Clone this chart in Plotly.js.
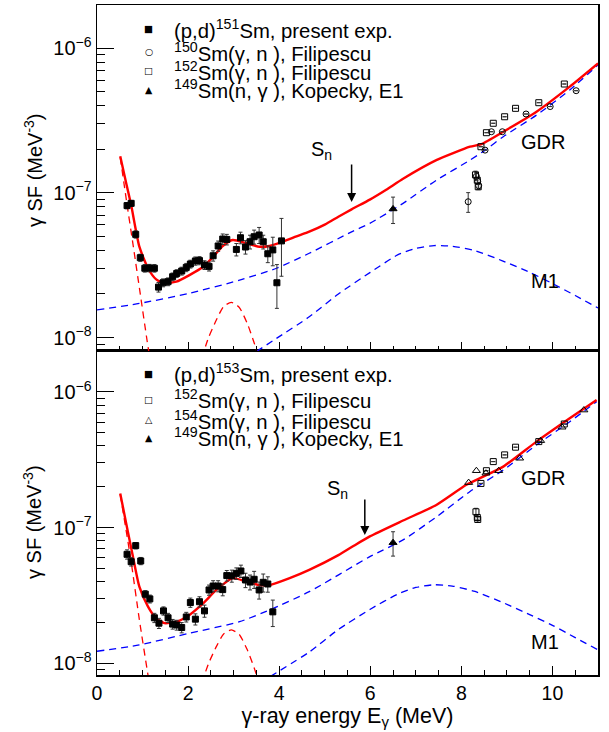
<!DOCTYPE html>
<html><head><meta charset="utf-8">
<script src="https://cdn.plot.ly/plotly-3.0.1.min.js"></script>
<style>html,body{margin:0;padding:0;background:#fff}#chart{width:609px;height:732px}</style>
</head><body><div id="chart"></div>
<script>
// ---------- TOP PANEL (151Sm) ----------
var topExpE   = [0.66,0.75,0.85,0.95,1.05,1.15,1.26,1.35,1.45,1.56,1.66,1.75,1.86,1.96,2.05,2.16,2.25,2.36,2.46,2.55,2.66,2.76,2.85,3.06,3.15,3.26,3.36,3.45,3.56,3.65,3.75,3.86,3.95,4.05];
var topExpSF  = [8.15e-8,8.45e-8,5.16e-8,3.56e-8,3.01e-8,3.02e-8,3.01e-8,2.23e-8,2.39e-8,2.43e-8,2.63e-8,2.77e-8,2.88e-8,3.05e-8,3.22e-8,3.38e-8,3.40e-8,3.17e-8,3.10e-8,3.67e-8,4.29e-8,4.79e-8,4.76e-8,4.06e-8,4.89e-8,4.22e-8,4.59e-8,4.97e-8,5.11e-8,4.59e-8,3.79e-8,4.03e-8,2.39e-8,4.65e-8];
var topExpErr = [0.4e-8,0.4e-8,0.3e-8,0.2e-8,0.18e-8,0.18e-8,0.18e-8,0.17e-8,0.15e-8,0.15e-8,0.16e-8,0.17e-8,0.18e-8,0.2e-8,0.2e-8,0.22e-8,0.22e-8,0.22e-8,0.22e-8,0.3e-8,0.35e-8,0.4e-8,0.4e-8,0.4e-8,0.45e-8,0.45e-8,0.5e-8,0.55e-8,0.65e-8,0.5e-8,0.5e-8,0.9e-8,0.8e-8,2.0e-8];

var topKopE = [6.50], topKopSF = [7.73e-8], topKopErr = [1.6e-8];

var sm150E   = [8.15,8.33,8.36,8.38,8.52,8.66,8.90,9.42,9.95,10.52];
var sm150SF  = [8.67e-8,1.30e-7,1.20e-7,1.12e-7,1.97e-7,2.64e-7,2.64e-7,3.50e-7,3.94e-7,5.07e-7];
var sm150Err = [1.35e-8,0.08e-7,0.06e-7,0.05e-7,0,0,0,0,0,0];

var topSm152E   = [8.31,8.35,8.37,8.43,8.55,8.70,8.95,9.19,9.70,10.26];
var topSm152SF  = [1.33e-7,1.22e-7,1.10e-7,2.08e-7,2.60e-7,3.02e-7,3.35e-7,3.83e-7,4.19e-7,5.64e-7];
var topSm152Err = [0.08e-7,0.06e-7,0.05e-7,0,0,0,0,0,0,0];

var topTotE  = [0.51,0.64,0.75,0.93,1.12,1.30,1.48,1.74,2.03,2.33,2.55,2.76,2.98,3.28,3.57,3.79,4.08,4.38,4.66,5.0,5.3,5.59,5.99,6.35,6.72,7.45,8.19,8.44,8.92,9.65,10.38,11.0];
var topTotSF = [1.79e-7,1.17e-7,8.22e-8,4.24e-8,3.01e-8,2.52e-8,2.37e-8,2.43e-8,2.70e-8,3.08e-8,3.61e-8,4.29e-8,4.72e-8,4.48e-8,4.24e-8,4.29e-8,4.59e-8,4.99e-8,5.38e-8,6.02e-8,6.83e-8,7.68e-8,8.97e-8,1.05e-7,1.25e-7,1.68e-7,2.08e-7,2.17e-7,2.64e-7,3.63e-7,5.41e-7,7.83e-7];

var topUpE  = [0.51,0.65,0.80,0.95,1.10,1.16];
var topUpSF = [1.76e-7,8.7e-8,4.2e-8,2.0e-8,9.5e-9,7.2e-9];

var topScE  = [2.30,2.45,2.62,2.78,2.95,3.12,3.30,3.45,3.57];
var topScSF = [7.2e-9,1.0e-8,1.32e-8,1.64e-8,1.75e-8,1.62e-8,1.25e-8,9.2e-9,7.0e-9];

var topGdrE  = [0.0,0.93,2.03,3.13,3.94,4.66,5.59,5.99,6.72,7.45,8.19,8.52,8.92,9.65,10.38,11.0];
var topGdrSF = [1.55e-8,1.72e-8,2.02e-8,2.49e-8,3.01e-8,3.82e-8,5.37e-8,6.15e-8,8.45e-8,1.22e-7,1.68e-7,1.97e-7,2.44e-7,3.44e-7,5.13e-7,7.64e-7];

var topM1E  = [3.50,3.94,4.66,5.3,6.0,6.6,7.0,7.4,7.8,8.3,8.9,9.5,10.0,10.5,11.0];
var topM1SF = [8.0e-9,9.86e-9,1.39e-8,2.0e-8,2.82e-8,3.72e-8,4.12e-8,4.32e-8,4.27e-8,3.98e-8,3.39e-8,2.82e-8,2.36e-8,1.95e-8,1.60e-8];

// ---------- BOTTOM PANEL (153Sm) ----------
var botExpE   = [0.66,0.75,0.85,0.96,1.06,1.16,1.26,1.36,1.46,1.56,1.66,1.75,1.86,1.96,2.05,2.16,2.25,2.36,2.46,2.55,2.66,2.76,2.85,2.96,3.06,3.16,3.26,3.36,3.45,3.56,3.65,3.75,3.86];
var botExpSF  = [6.37e-8,5.62e-8,7.38e-8,5.69e-8,3.24e-8,2.99e-8,2.17e-8,1.98e-8,2.44e-8,2.17e-8,1.95e-8,1.92e-8,1.84e-8,2.20e-8,2.81e-8,2.12e-8,2.85e-8,2.44e-8,3.48e-8,3.72e-8,3.72e-8,3.50e-8,4.44e-8,4.42e-8,4.61e-8,4.80e-8,4.12e-8,3.98e-8,4.17e-8,3.48e-8,3.96e-8,3.85e-8,2.40e-8];
var botExpErr = [0.5e-8,0.4e-8,0.4e-8,0.35e-8,0.2e-8,0.2e-8,0.17e-8,0.17e-8,0.17e-8,0.17e-8,0.16e-8,0.16e-8,0.16e-8,0.18e-8,0.22e-8,0.2e-8,0.25e-8,0.25e-8,0.3e-8,0.35e-8,0.35e-8,0.35e-8,0.4e-8,0.45e-8,0.45e-8,0.5e-8,0.5e-8,0.5e-8,0.6e-8,0.5e-8,0.6e-8,0.5e-8,0.53e-8];

var botKopE = [6.50], botKopSF = [7.76e-8], botKopErr = [1.58e-8];

var botSm152E   = [8.32,8.35,8.36,8.43,8.55,8.70,8.95,9.19,9.70,10.26];
var botSm152SF  = [1.31e-7,1.19e-7,1.15e-7,2.12e-7,2.63e-7,3.07e-7,3.44e-7,3.92e-7,4.31e-7,5.81e-7];
var botSm152Err = [0.08e-7,0.05e-7,0.05e-7,0,0,0,0,0,0,0];

var sm154E  = [8.16,8.33,8.54,8.82,9.28,9.74,10.21,10.69];
var sm154SF = [2.15e-7,2.63e-7,2.52e-7,2.63e-7,3.25e-7,4.38e-7,5.50e-7,7.36e-7];

var botTotE  = [0.51,0.64,0.79,0.93,1.12,1.30,1.48,1.74,2.03,2.33,2.62,2.98,3.28,3.57,3.79,4.23,4.66,5.3,5.65,5.99,6.72,7.45,8.11,8.48,8.92,9.65,10.38,10.97];
var botTotSF = [1.79e-7,1.08e-7,6.12e-8,3.68e-8,2.62e-8,2.15e-8,1.98e-8,2.03e-8,2.28e-8,2.77e-8,3.48e-8,4.25e-8,4.01e-8,3.78e-8,3.78e-8,4.25e-8,4.89e-8,6.28e-8,7.40e-8,8.63e-8,1.13e-7,1.47e-7,2.07e-7,2.38e-7,2.82e-7,4.31e-7,6.40e-7,8.73e-7];

var botUpE  = [0.51,0.75,0.93,1.12,1.16];
var botUpSF = [1.76e-7,5.6e-8,2.1e-8,8.2e-9,6.8e-9];

var botScE  = [2.30,2.45,2.62,2.78,2.95,3.12,3.30,3.45,3.57];
var botScSF = [7.2e-9,1.0e-8,1.33e-8,1.65e-8,1.77e-8,1.64e-8,1.26e-8,9.3e-9,7.0e-9];

var botGdrE  = [0.0,0.93,2.03,3.13,3.79,4.66,5.99,6.72,7.45,8.19,8.92,9.65,10.38,10.97];
var botGdrSF = [1.23e-8,1.37e-8,1.67e-8,2.03e-8,2.48e-8,3.38e-8,6.12e-8,8.13e-8,1.20e-7,1.85e-7,2.66e-7,4.07e-7,6.04e-7,8.49e-7];

var botM1E  = [3.80,4.67,5.3,6.0,6.6,7.0,7.4,7.8,8.3,8.9,9.5,10.0,10.5,11.0];
var botM1SF = [8.0e-9,1.22e-8,1.78e-8,2.51e-8,3.24e-8,3.63e-8,3.80e-8,3.72e-8,3.39e-8,2.82e-8,2.29e-8,1.91e-8,1.55e-8,1.26e-8];

// ---------- axis tick labels ----------
var yTickVals = [1e-8,1e-7,1e-6];
var yTickText = ['10<sup>\u22128</sup>','10<sup>\u22127</sup>','10<sup>\u22126</sup>'];
var yMinorVals = [];
[1e-9,1e-8,1e-7,1e-6].forEach(function(d){for(var k=2;k<10;k++){yMinorVals.push(k*d);}});

var FONT = 'Liberation Sans, Arial, Helvetica, sans-serif';
var RED = '#ff0000', BLUE = '#0000ff';

function pts(xa, ya, x, y, err, sym, size, lw){
  var t = {x:x, y:y, xaxis:xa, yaxis:ya, type:'scatter', mode:'markers', showlegend:false,
    marker:{symbol:sym, size:size, color:'#000', line:{color:'#000', width:lw||1}}};
  if (err) t.error_y = {type:'data', array:err, visible:true, color:'#333', thickness:1, width:2};
  return t;
}
function line(xa, ya, x, y, col, w, dash){
  return {x:x, y:y, xaxis:xa, yaxis:ya, type:'scatter', mode:'lines', showlegend:false, hoverinfo:'skip',
    line:{color:col, width:w, dash:dash||'solid', shape:'spline', smoothing:0.6}};
}
var DASH = '7px,5px';

var traces = [
  // top panel
  line('x2','y2', topGdrE, topGdrSF, BLUE, 1.3, DASH),
  line('x2','y2', topM1E, topM1SF, BLUE, 1.3, DASH),
  line('x2','y2', topUpE, topUpSF, RED, 1.3, DASH),
  line('x2','y2', topScE, topScSF, RED, 1.3, DASH),
  line('x2','y2', topTotE, topTotSF, RED, 2.4),
  pts('x2','y2', topExpE, topExpSF, topExpErr, 'square', 6),
  pts('x2','y2', topKopE, topKopSF, topKopErr, 'triangle-up', 7),
  pts('x2','y2', sm150E, sm150SF, sm150Err, 'circle-open', 6),
  pts('x2','y2', topSm152E, topSm152SF, topSm152Err, 'square-open', 6),
  // bottom panel
  line('x','y', botGdrE, botGdrSF, BLUE, 1.3, DASH),
  line('x','y', botM1E, botM1SF, BLUE, 1.3, DASH),
  line('x','y', botUpE, botUpSF, RED, 1.3, DASH),
  line('x','y', botScE, botScSF, RED, 1.3, DASH),
  line('x','y', botTotE, botTotSF, RED, 2.4),
  pts('x','y', botExpE, botExpSF, botExpErr, 'square', 6),
  pts('x','y', botKopE, botKopSF, botKopErr, 'triangle-up', 7),
  pts('x','y', botSm152E, botSm152SF, botSm152Err, 'square-open', 6),
  pts('x','y', sm154E, sm154SF, null, 'triangle-up-open', 7)
];

function xax(extra){
  var a = {range:[0,11], showline:true, mirror:true, linecolor:'#000', linewidth:1.5,
    ticks:'inside', ticklen:9, tickwidth:1, tickcolor:'#000', tick0:0, dtick:2,
    minor:{dtick:0.5, tick0:0, ticklen:5, ticks:'inside', tickcolor:'#000', tickwidth:1, showgrid:false},
    showgrid:false, zeroline:false, tickfont:{family:FONT, size:19.5, color:'#000'}};
  for (var k in extra) a[k] = extra[k];
  return a;
}
function yax(extra){
  var a = {type:'log', showline:true, mirror:true, linecolor:'#000', linewidth:1.5,
    ticks:'inside', ticklen:17, tickwidth:1, tickcolor:'#000',
    tickmode:'array', tickvals:yTickVals, ticktext:yTickText,
    minor:{tickmode:'array', tickvals:yMinorVals, ticklen:8, ticks:'inside', tickcolor:'#000', tickwidth:1, showgrid:false},
    showgrid:false, zeroline:false, tickfont:{family:FONT, size:20, color:'#000'}};
  for (var k in extra) a[k] = extra[k];
  return a;
}

var split = 0.4836;
var ann = [];
function txt(xr, yr, x, y, t, size, xanchor){
  ann.push({xref:xr, yref:yr, x:x, y:y, text:t, showarrow:false, xanchor:xanchor||'center', yanchor:'middle',
    font:{family:FONT, size:size, color:'#000'}});
}
// y-axis titles (placed like the ROOT titles)
var yTitle = '\u03b3 SF (MeV<sup>-3</sup>)';
ann.push({xref:'paper', yref:'paper', x:-0.1277, y:0.7537, text:yTitle, textangle:-90, showarrow:false,
  xanchor:'center', yanchor:'middle', font:{family:FONT, size:20, color:'#000'}});
ann.push({xref:'paper', yref:'paper', x:-0.1277, y:0.2284, text:yTitle, textangle:-90, showarrow:false,
  xanchor:'center', yanchor:'middle', font:{family:FONT, size:20, color:'#000'}});

// top panel labels
txt('x2','y2', 4.93, -6.705, 'S<sub>n</sub>', 20);
txt('x2','y2', 9.79, -6.649, 'GDR', 20);
txt('x2','y2', 9.84, -7.610, 'M1', 20);
ann.push({xref:'x2', yref:'y2', x:5.59, y:-7.064, ax:0, ay:-39, showarrow:true, arrowhead:2, arrowsize:1.2, arrowwidth:1.5, arrowcolor:'#000', text:''});
// bottom panel labels
txt('x','y', 5.29, -6.722, 'S<sub>n</sub>', 20);
txt('x','y', 9.79, -6.634, 'GDR', 20);
txt('x','y', 9.84, -7.842, 'M1', 20);
ann.push({xref:'x', yref:'y', x:5.88, y:-7.053, ax:0, ay:-37, showarrow:true, arrowhead:2, arrowsize:1.2, arrowwidth:1.5, arrowcolor:'#000', text:''});

// legends (paper coordinates)
var legTop = [
  ['\u25a0', '(p,d)<sup>151</sup>Sm, present exp.', 0.9642],
  ['\u25cb', '<sup>150</sup>Sm(\u03b3, n ), Filipescu', 0.9299],
  ['\u25a1', '<sup>152</sup>Sm(\u03b3, n ), Filipescu', 0.9015],
  ['\u25b2', '<sup>149</sup>Sm(n, \u03b3 ), Kopecky, E1', 0.8746]
];
var legBot = [
  ['\u25a0', '(p,d)<sup>153</sup>Sm, present exp.', 0.4507],
  ['\u25a1', '<sup>152</sup>Sm(\u03b3, n ), Filipescu', 0.4119],
  ['\u25b3', '<sup>154</sup>Sm(\u03b3, n ), Filipescu', 0.3806],
  ['\u25b2', '<sup>149</sup>Sm(n, \u03b3 ), Kopecky, E1', 0.3552]
];
legTop.concat(legBot).forEach(function(r){
  ann.push({xref:'paper', yref:'paper', x:0.1035, y:r[2], text:r[0], showarrow:false, xanchor:'center', yanchor:'middle',
    font:{family:'DejaVu Sans', size:9.5, color:'#000'}});
  ann.push({xref:'paper', yref:'paper', x:0.1489, y:r[2], text:r[1], showarrow:false, xanchor:'left', yanchor:'middle',
    font:{family:FONT, size:20.3, color:'#000'}});
});

var layout = {
  width:609, height:732, margin:{l:97, r:11, t:5, b:57}, paper_bgcolor:'#fff', plot_bgcolor:'#fff',
  showlegend:false, font:{family:FONT, color:'#000'},
  xaxis: xax({anchor:'y', title:{text:'\u03b3-ray energy E<sub>\u03b3</sub> (MeV)', font:{family:FONT, size:21.5, color:'#000'}, standoff:0}}),
  xaxis2: xax({anchor:'y2', matches:'x', showticklabels:false}),
  yaxis: yax({domain:[0, split], range:[-8.085, -5.698], anchor:'x'}),
  yaxis2: yax({domain:[split, 1], range:[-8.093, -5.703], anchor:'x2'}),
  annotations: ann
};

Plotly.newPlot('chart', traces, layout, {staticPlot:true, displayModeBar:false});
</script></body></html>
